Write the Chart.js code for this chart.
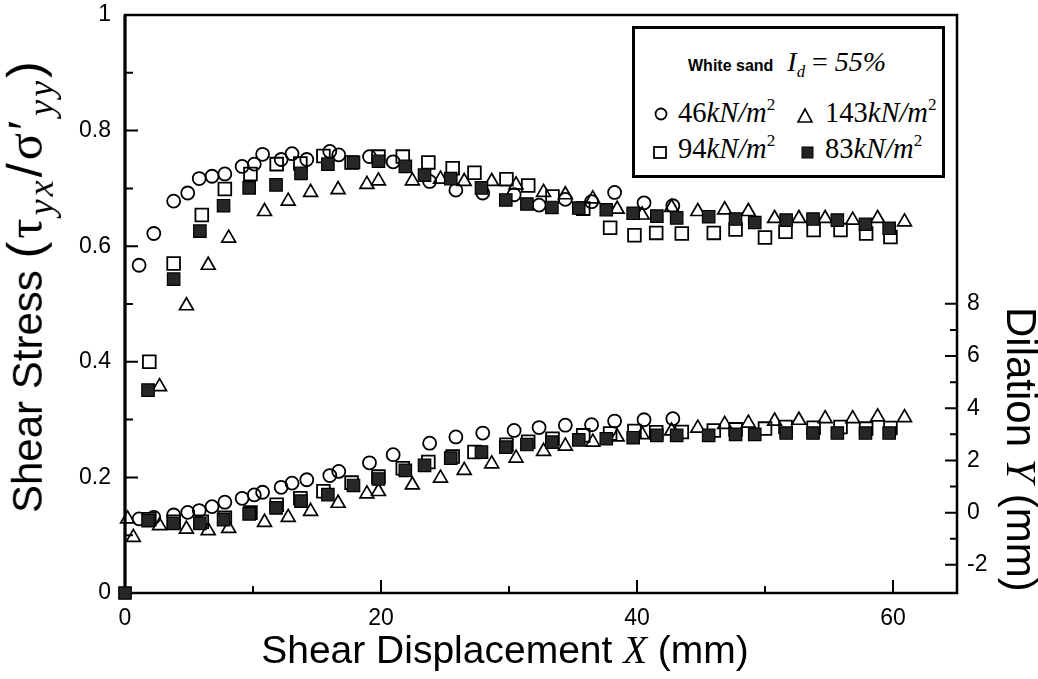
<!DOCTYPE html>
<html>
<head>
<meta charset="utf-8">
<script src="https://cdn.jsdelivr.net/npm/chart.js@4.4.1/dist/chart.umd.min.js"></script>
<style>
  body { margin: 0; background: #fff; }
  #wrap { position: relative; width: 1038px; height: 679px; }
  #chart { display: block; }
  .title { position: absolute; white-space: nowrap; line-height: 1; color: #000;
           font-family: 'Liberation Sans', Arial, Helvetica, sans-serif; }
  .it { font-family: 'Liberation Serif', 'Times New Roman', serif; font-style: italic; }
  .rm { font-family: 'Liberation Serif', 'Times New Roman', serif; }
  .sub { position: relative; font-size: 60%; top: 0.35em; }
  .sup { position: relative; font-size: 60%; top: -0.7em; }
  #ytitle { left: 25px; top: 513px; font-size: 42px; transform-origin: 0 0; transform: rotate(-90deg) translate(0, -50%); }
  #ytitle .par { font-size: 1.2em; letter-spacing: 3px; }
  #ytitle .sub { font-size: 72%; top: 0.3em; }
  #y2title { left: 1021px; top: 307px; font-size: 42px; transform-origin: 0 0; transform: rotate(90deg) translate(0, -50%); }
  #xtitle { left: 505px; top: 630px; font-size: 39px; transform: translateX(-50%); }
  #legend { position: absolute; left: 632px; top: 26px; width: 307px; height: 146px; border: 3px solid #000; background: #fff; }
  #legend .row { position: absolute; white-space: nowrap; line-height: 1; font-size: 28.5px; }
  #legend svg { position: absolute; left: 0; top: 0; }
</style>
</head>
<body>
<div id="wrap">
  <canvas id="chart" width="1038" height="679"></canvas>

  <div class="title" id="ytitle">Shear Stress <span class="par">(<span class="rm">τ</span><span class="it sub">yx</span>/<span class="rm">σ′</span><span class="it sub">yy</span>)</span></div>
  <div class="title" id="y2title">Dilation <span class="it">Y</span> (mm)</div>
  <div class="title" id="xtitle">Shear Displacement <span class="it">X</span>&nbsp;(mm)</div>

  <div id="legend">
    <svg width="307" height="146">
      <circle cx="26" cy="85" r="5.5" fill="none" stroke="#000" stroke-width="1.8"/>
      <polygon points="170,80 177,93 163,93" fill="none" stroke="#000" stroke-width="1.6"/>
      <rect x="19" y="118" width="12" height="11" fill="none" stroke="#000" stroke-width="1.8"/>
      <rect x="167" y="118" width="11" height="11" fill="#222" stroke="#000" stroke-width="1"/>
    </svg>
    <div class="row rm" style="left:53px; top:19px; font-size:28px;"><span style="font: bold 16px 'Liberation Sans', Arial, sans-serif;">White sand</span>&nbsp; <span class="it">I</span><span class="it sub">d</span> = <span class="it">55%</span></div>
    <div class="row rm" style="left:43px; top:70px;">46<span class="it">kN/m</span><span class="sup">2</span></div>
    <div class="row rm" style="left:190px; top:70px;">143<span class="it">kN/m</span><span class="sup">2</span></div>
    <div class="row rm" style="left:43px; top:106px;">94<span class="it">kN/m</span><span class="sup">2</span></div>
    <div class="row rm" style="left:190px; top:106px;">83<span class="it">kN/m</span><span class="sup">2</span></div>
  </div>
</div>

<script>
// shear displacement X (mm) of each reading, per normal stress
const x46  = [1.1, 2.25, 3.8, 4.9, 5.8, 6.8, 7.8, 9.15, 10.1, 10.75, 12.2, 13.05, 14.2, 16.0, 16.7, 19.1, 20.95, 23.8, 25.85, 27.95, 30.4, 32.35, 34.4, 36.45, 38.25, 40.55, 42.8]
const x143 = [0.2, 0.65, 2.7, 4.8, 6.5, 8.1, 10.9, 12.75, 14.5, 16.65, 18.9, 19.8, 22.45, 24.65, 26.5, 28.65, 30.55, 32.7, 34.4, 36.55, 38.45, 40.4, 42.7, 44.75, 46.85, 48.7, 50.75, 52.65, 54.7, 56.85, 58.8, 60.9]
const x94  = [1.9, 3.8, 6.0, 7.8, 9.8, 11.85, 13.7, 15.5, 17.7, 19.8, 21.7, 23.7, 25.6, 27.3, 29.8, 31.5, 33.4, 35.8, 37.9, 39.8, 41.5, 43.5, 46.0, 47.7, 50.0, 51.6, 53.8, 55.9, 57.9, 59.8]
const x83  = [0, 1.8, 3.8, 5.85, 7.7, 9.7, 11.8, 13.75, 15.85, 17.85, 19.8, 21.9, 23.4, 25.45, 27.85, 29.75, 31.4, 33.35, 35.45, 37.6, 39.7, 41.55, 43.1, 45.6, 47.7, 49.2, 51.65, 53.75, 55.65, 57.85, 59.7]

// shear stress ratio tau_yx / sigma'_yy
const stress46  = [0.567, 0.622, 0.678, 0.692, 0.717, 0.721, 0.725, 0.738, 0.742, 0.759, 0.750, 0.760, 0.750, 0.764, 0.758, 0.755, 0.746, 0.712, 0.697, 0.692, 0.689, 0.671, 0.681, 0.677, 0.693, 0.675, 0.670]
const stress143 = [null, null, 0.357, 0.497, 0.567, 0.614, 0.660, 0.678, 0.693, 0.698, 0.707, 0.713, 0.713, 0.716, 0.712, 0.712, 0.706, 0.693, 0.689, 0.682, 0.664, 0.654, 0.667, 0.660, 0.663, 0.660, 0.648, 0.648, 0.648, 0.645, 0.648, 0.642]
const stress94  = [0.400, 0.570, 0.654, 0.699, 0.725, 0.742, 0.743, 0.756, 0.745, 0.755, 0.755, 0.745, 0.735, 0.727, 0.716, 0.705, 0.686, 0.665, 0.632, 0.619, 0.623, 0.622, 0.623, 0.629, 0.615, 0.625, 0.628, 0.628, 0.622, 0.616]
const stress83  = [0, 0.351, 0.543, 0.626, 0.670, 0.701, 0.706, 0.726, 0.742, 0.745, 0.747, 0.738, 0.723, 0.717, 0.701, 0.680, 0.673, 0.667, 0.666, 0.663, 0.657, 0.652, 0.649, 0.651, 0.647, 0.641, 0.645, 0.647, 0.645, 0.638, 0.631]

// dilation Y (mm)
const dil46  = [-0.24, -0.18, -0.09, 0.01, 0.08, 0.23, 0.40, 0.55, 0.68, 0.78, 0.97, 1.13, 1.26, 1.42, 1.58, 1.91, 2.22, 2.66, 2.90, 3.05, 3.15, 3.26, 3.35, 3.37, 3.51, 3.56, 3.60]
const dil143 = [-0.24, -0.95, -0.5, -0.63, -0.69, -0.6, -0.37, -0.18, 0.05, 0.36, 0.72, 0.81, 1.06, 1.32, 1.62, 1.87, 2.09, 2.35, 2.55, 2.70, 2.90, 2.99, 3.13, 3.24, 3.38, 3.43, 3.51, 3.54, 3.60, 3.60, 3.67, 3.64]
const dil94  = [-0.25, -0.35, -0.35, -0.2, 0.0, 0.3, 0.55, 0.82, 1.15, 1.38, 1.7, 1.94, 2.15, 2.32, 2.6, 2.72, 2.83, 2.96, 3.03, 3.13, 3.08, 3.09, 3.15, 3.19, 3.22, 3.28, 3.25, 3.28, 3.22, 3.24]
const dil83  = [null, -0.31, -0.41, -0.41, -0.27, -0.05, 0.18, 0.44, 0.69, 1.04, 1.29, 1.62, 1.81, 2.09, 2.32, 2.51, 2.61, 2.70, 2.79, 2.83, 2.87, 2.96, 2.96, 2.96, 3.0, 3.0, 3.05, 3.05, 3.05, 3.05, 3.05]

// axis ticks
const xTicks = [0, 20, 40, 60]
const xMinor = [10, 30, 50]
const yTicks = [0, 0.2, 0.4, 0.6, 0.8, 1]
const yMinor = [0.1, 0.3, 0.5, 0.7, 0.9]
const y2Ticks = [-2, 0, 2, 4, 6, 8]
const y2Minor = [-1, 1, 3, 5, 7]

function pts(xs, ys) {
  return xs.map((x, i) => ({ x: x, y: ys[i] })).filter(p => p.y !== null)
}

const circle = { pointStyle: 'circle', pointRadius: 6.5, borderWidth: 1.8, borderColor: '#000', backgroundColor: 'rgba(0,0,0,0)' }
const triangle = { pointStyle: 'triangle', pointRadius: 8, borderWidth: 1.7, borderColor: '#000', backgroundColor: 'rgba(0,0,0,0)' }
const openSq = { pointStyle: 'rect', pointRadius: 9, borderWidth: 1.8, borderColor: '#000', backgroundColor: 'rgba(0,0,0,0)' }
const fillSq = { pointStyle: 'rect', pointRadius: 8.8, borderWidth: 1.2, borderColor: '#000', backgroundColor: '#262626' }

const tickFont = { family: "'Liberation Sans', Arial, sans-serif", size: 23 }

// keep the plot box where the picture has it: no extra room for end labels
function fixVertical(width) {
  return s => { s.width = width; s.paddingTop = 0; s.paddingBottom = 0 }
}

// frame and inward tick marks
const frameTicks = {
  id: 'frameTicks',
  beforeDatasetsDraw(chart) {
    const { ctx, chartArea: a, scales } = chart
    ctx.save()
    ctx.strokeStyle = '#000'
    ctx.lineWidth = 2.5
    ctx.strokeRect(a.left, a.top, a.right - a.left, a.bottom - a.top)
    ctx.beginPath()
    ctx.lineWidth = 3
    ctx.moveTo(a.left, a.top); ctx.lineTo(a.left, a.bottom)
    ctx.stroke()
    ctx.lineWidth = 2
    ctx.beginPath()
    xTicks.forEach(v => { const p = scales.x.getPixelForValue(v); ctx.moveTo(p, a.bottom); ctx.lineTo(p, a.bottom - 13) })
    xMinor.forEach(v => { const p = scales.x.getPixelForValue(v); ctx.moveTo(p, a.bottom); ctx.lineTo(p, a.bottom - 7) })
    yTicks.forEach(v => { const p = scales.y.getPixelForValue(v); ctx.moveTo(a.left, p); ctx.lineTo(a.left + 13, p) })
    yMinor.forEach(v => { const p = scales.y.getPixelForValue(v); ctx.moveTo(a.left, p); ctx.lineTo(a.left + 8, p) })
    y2Ticks.forEach(v => { const p = scales.y2.getPixelForValue(v); ctx.moveTo(a.right, p); ctx.lineTo(a.right - 12, p) })
    y2Minor.forEach(v => { const p = scales.y2.getPixelForValue(v); ctx.moveTo(a.right, p); ctx.lineTo(a.right - 7, p) })
    ctx.stroke()
    ctx.restore()
  }
}

new Chart(document.getElementById('chart'), {
  type: 'scatter',
  data: {
    datasets: [
      { ...fillSq, data: pts(x83, stress83), yAxisID: 'y' },
      { ...fillSq, data: pts(x83, dil83), yAxisID: 'y2' },
      { ...openSq, data: pts(x94, stress94), yAxisID: 'y' },
      { ...openSq, data: pts(x94, dil94), yAxisID: 'y2' },
      { ...triangle, data: pts(x143, stress143), yAxisID: 'y' },
      { ...triangle, data: pts(x143, dil143), yAxisID: 'y2' },
      { ...circle, data: pts(x46, stress46), yAxisID: 'y' },
      { ...circle, data: pts(x46, dil46), yAxisID: 'y2' }
    ]
  },
  options: {
    responsive: false,
    animation: false,
    clip: false,
    layout: { padding: { top: 15, left: 0, right: 0, bottom: 0 } },
    plugins: { legend: { display: false }, tooltip: { enabled: false } },
    scales: {
      x: {
        type: 'linear', min: 0, max: 65,
        afterBuildTicks: s => { s.ticks = xTicks.map(v => ({ value: v })) },
        afterFit: s => { s.height = 86; s.paddingLeft = 0; s.paddingRight = 0 },
        grid: { display: false, drawTicks: false },
        border: { display: false },
        ticks: { font: tickFont, color: '#000', padding: 12, maxRotation: 0 }
      },
      y: {
        position: 'left', min: 0, max: 1,
        afterBuildTicks: s => { s.ticks = yTicks.map(v => ({ value: v })) },
        afterFit: fixVertical(125),
        grid: { display: false, drawTicks: false },
        border: { display: false },
        ticks: { font: tickFont, color: '#000', padding: 14, callback: v => String(v) }
      },
      y2: {
        position: 'right', min: -3.08, max: 19.07,
        afterBuildTicks: s => { s.ticks = y2Ticks.map(v => ({ value: v })) },
        afterFit: fixVertical(81),
        grid: { display: false, drawTicks: false },
        border: { display: false },
        ticks: { font: tickFont, color: '#000', padding: 10, callback: v => String(v) }
      }
    }
  },
  plugins: [frameTicks]
})
</script>
</body>
</html>
